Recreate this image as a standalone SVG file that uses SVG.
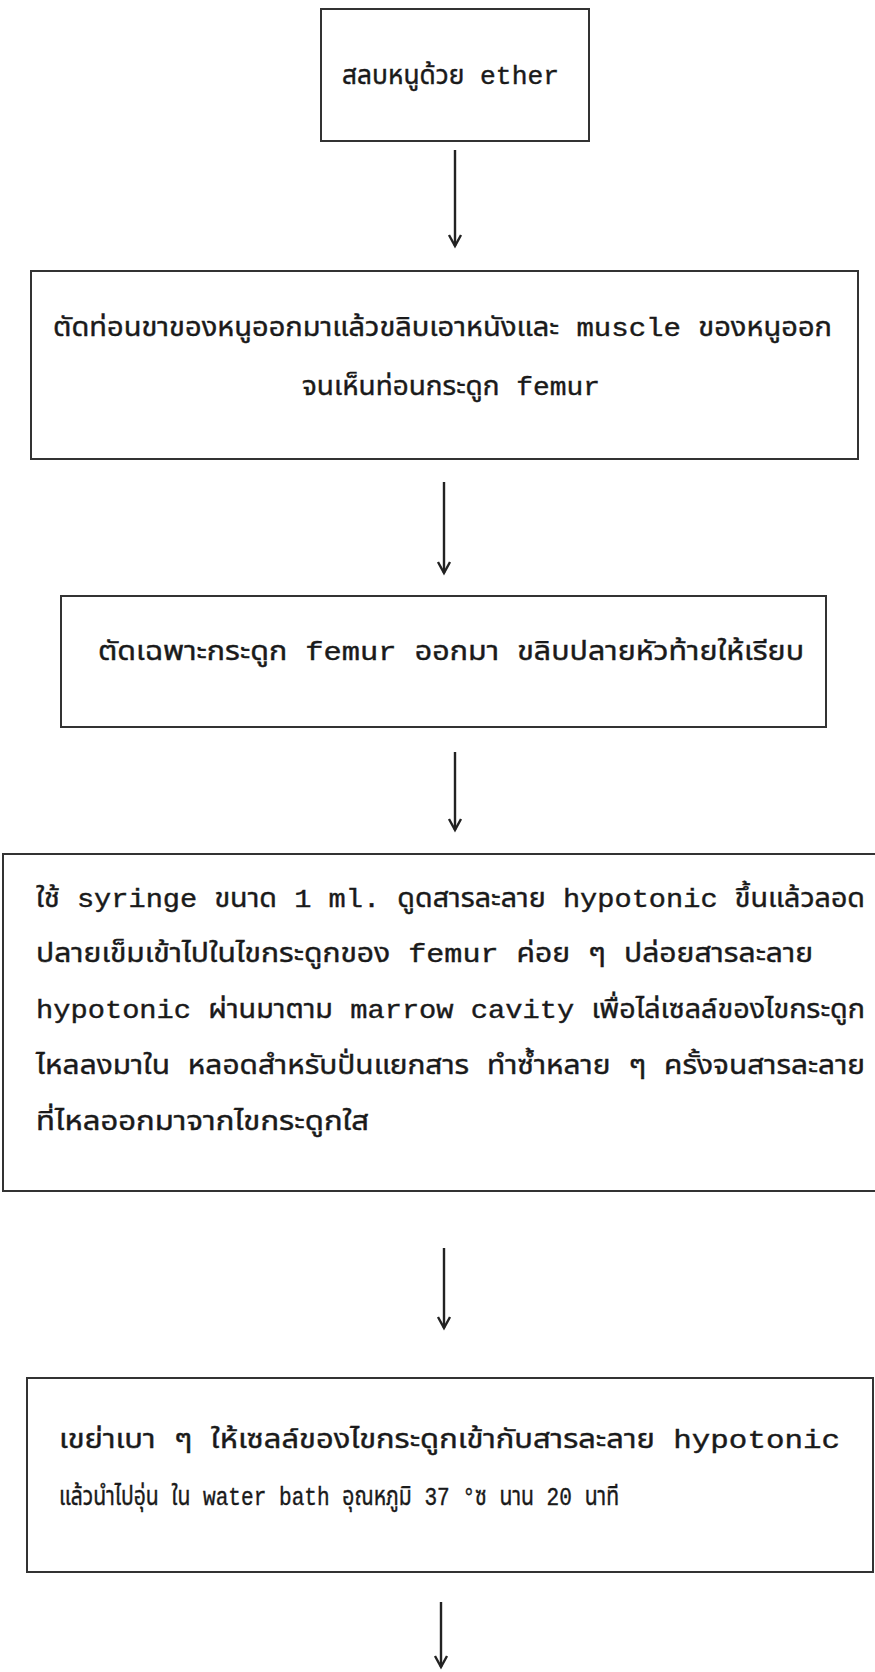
<svg xmlns="http://www.w3.org/2000/svg" width="875" height="1672" viewBox="0 0 875 1672">
<defs>
<style>
.box{fill:none;stroke:#333;stroke-width:2}
.t{font-family:"Liberation Mono","DejaVu Sans Mono","Noto Sans Thai","Noto Sans",monospace;font-size:26px;fill:#1a1a1a;stroke:#1a1a1a;stroke-width:0.4}
.c{stroke:#222;stroke-width:2.4;fill:none}
</style>
</defs>
<rect width="875" height="1672" fill="#fff"/>
<g id="connectors">
<line class="c" x1="455" y1="150" x2="455" y2="246"/>
<path class="c" d="M449,235 L455,246 L461,235"/>
<line class="c" x1="444" y1="482" x2="444" y2="573"/>
<path class="c" d="M438,562 L444,573 L450,562"/>
<line class="c" x1="455" y1="752" x2="455" y2="830"/>
<path class="c" d="M449,819 L455,830 L461,819"/>
<line class="c" x1="444" y1="1248" x2="444" y2="1328"/>
<path class="c" d="M438,1317 L444,1328 L450,1317"/>
<line class="c" x1="441" y1="1602" x2="441" y2="1667"/>
<path class="c" d="M435,1656 L441,1667 L447,1656"/>
</g>
<g id="n1">
<rect class="box" x="321" y="9" width="268" height="132"/>
<text class="t" x="342" y="84" textLength="217" lengthAdjust="spacingAndGlyphs">สลบหนูด้วย ether</text>
</g>
<g id="n2">
<rect class="box" x="31" y="271" width="827" height="188"/>
<text class="t" x="53" y="336" textLength="779" lengthAdjust="spacingAndGlyphs">ตัดท่อนขาของหนูออกมาแล้วขลิบเอาหนังและ  muscle ของหนูออก</text>
<text class="t" x="302" y="395" textLength="298" lengthAdjust="spacingAndGlyphs">จนเห็นท่อนกระดูก femur</text>
</g>
<g id="n3">
<rect class="box" x="61" y="596" width="765" height="131"/>
<text class="t" x="98" y="660" textLength="706" lengthAdjust="spacingAndGlyphs">ตัดเฉพาะกระดูก femur ออกมา ขลิบปลายหัวท้ายให้เรียบ</text>
</g>
<g id="n4">
<rect class="box" x="3" y="854" width="880" height="337"/>
<text class="t" x="36" y="907" textLength="829" lengthAdjust="spacingAndGlyphs">ใช้ syringe ขนาด 1 ml. ดูดสารละลาย hypotonic  ขึ้นแล้วลอด</text>
<text class="t" x="36" y="962" textLength="777" lengthAdjust="spacingAndGlyphs">ปลายเข็มเข้าไปในไขกระดูกของ femur ค่อย ๆ ปล่อยสารละลาย</text>
<text class="t" x="36" y="1018" textLength="829" lengthAdjust="spacingAndGlyphs">hypotonic ผ่านมาตาม marrow cavity เพื่อไล่เซลล์ของไขกระดูก</text>
<text class="t" x="36" y="1074" textLength="829" lengthAdjust="spacingAndGlyphs">ไหลลงมาใน หลอดสำหรับปั่นแยกสาร ทำซ้ำหลาย ๆ ครั้งจนสารละลาย</text>
<text class="t" x="36" y="1130" textLength="333" lengthAdjust="spacingAndGlyphs">ที่ไหลออกมาจากไขกระดูกใส</text>
</g>
<g id="n5">
<rect class="box" x="27" y="1378" width="846" height="194"/>
<text class="t" x="59" y="1448" textLength="781" lengthAdjust="spacingAndGlyphs">เขย่าเบา ๆ ให้เซลล์ของไขกระดูกเข้ากับสารละลาย hypotonic</text>
<text class="t" x="59" y="1505" textLength="560" lengthAdjust="spacingAndGlyphs">แล้วนำไปอุ่น  ใน water bath อุณหภูมิ 37 °ซ นาน 20 นาที</text>
</g>
</svg>
